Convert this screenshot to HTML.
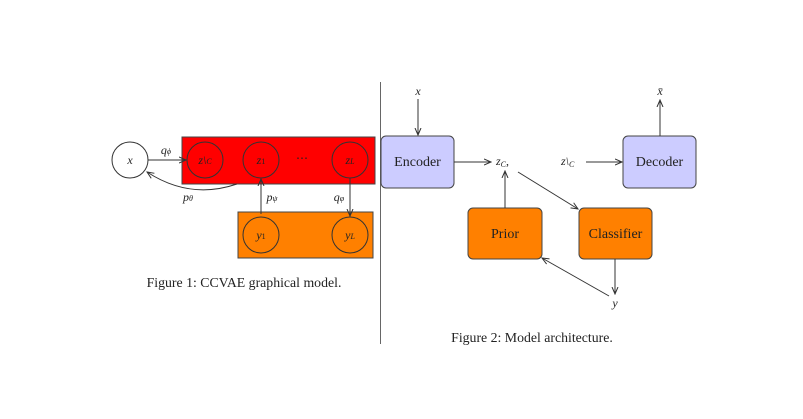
<!DOCTYPE html>
<html><head><meta charset="utf-8"><style>
html,body{margin:0;padding:0;background:#fff;}
svg{display:block;}
text{font-family:"Liberation Serif",serif;fill:#222;}
.m{font-style:italic;}
</style></head><body>
<svg width="803" height="419" viewBox="0 0 803 419" xmlns="http://www.w3.org/2000/svg">
<defs>
<marker id="a" markerWidth="8" markerHeight="8" refX="7" refY="4" orient="auto" markerUnits="userSpaceOnUse">
<path d="M0,1 L7,4 L0,7" fill="none" stroke="#333" stroke-width="1"/>
</marker>
</defs>
<rect x="182" y="137" width="193" height="47" fill="#ff0000" stroke="#444" stroke-width="1"/>
<rect x="238" y="212" width="135" height="46" fill="#ff8000" stroke="#444" stroke-width="1"/>
<circle cx="130" cy="160" r="18" fill="#fff" stroke="#333"/>
<text x="130" y="164" font-size="12" text-anchor="middle" class="m">x</text>
<circle cx="205" cy="160" r="18" fill="none" stroke="#333"/>
<text x="205" y="164" font-size="12" text-anchor="middle" class="m">z\<tspan font-size="8">C</tspan></text>
<circle cx="261" cy="160" r="18" fill="none" stroke="#333"/>
<text x="261" y="164" font-size="12" text-anchor="middle" class="m">z<tspan font-size="8" font-style="normal">1</tspan></text>
<text x="302" y="162" font-size="12" text-anchor="middle">⋯</text>
<circle cx="350" cy="160" r="18" fill="none" stroke="#333"/>
<text x="350" y="164" font-size="12" text-anchor="middle" class="m">z<tspan font-size="8">L</tspan></text>
<circle cx="261" cy="235" r="18" fill="none" stroke="#333"/>
<text x="261" y="239" font-size="12" text-anchor="middle" class="m">y<tspan font-size="8" font-style="normal">1</tspan></text>
<circle cx="350" cy="235" r="18" fill="none" stroke="#333"/>
<text x="350" y="239" font-size="12" text-anchor="middle" class="m">y<tspan font-size="8">L</tspan></text>
<line x1="148" y1="160" x2="186" y2="160" stroke="#333" marker-end="url(#a)"/>
<text x="166" y="154" font-size="12" text-anchor="middle" class="m">q<tspan font-size="8">ϕ</tspan></text>
<path d="M237,184 Q190,200 147,172" fill="none" stroke="#333" marker-end="url(#a)"/>
<text x="188" y="201" font-size="12" text-anchor="middle" class="m">p<tspan font-size="8">θ</tspan></text>
<line x1="261" y1="214" x2="261" y2="179" stroke="#333" marker-end="url(#a)"/>
<text x="272" y="201" font-size="12" text-anchor="middle" class="m">p<tspan font-size="8">ψ</tspan></text>
<line x1="350" y1="178" x2="350" y2="216" stroke="#333" marker-end="url(#a)"/>
<text x="339" y="201" font-size="12" text-anchor="middle" class="m">q<tspan font-size="8">φ</tspan></text>
<text x="244" y="287" font-size="13.8" text-anchor="middle">Figure 1: CCVAE graphical model.</text>
<line x1="380.5" y1="82" x2="380.5" y2="344" stroke="#666" stroke-width="1"/>
<rect x="381" y="136" width="73" height="52" rx="5" fill="#ccccff" stroke="#444"/>
<text x="417.5" y="166" font-size="14" text-anchor="middle">Encoder</text>
<rect x="623" y="136" width="73" height="52" rx="5" fill="#ccccff" stroke="#444"/>
<text x="659.5" y="166" font-size="14" text-anchor="middle">Decoder</text>
<rect x="468" y="208" width="74" height="51" rx="5" fill="#ff8000" stroke="#444"/>
<text x="505" y="238" font-size="14" text-anchor="middle">Prior</text>
<rect x="579" y="208" width="73" height="51" rx="5" fill="#ff8000" stroke="#444"/>
<text x="615.5" y="238" font-size="14" text-anchor="middle">Classifier</text>
<text x="418" y="95" font-size="12" text-anchor="middle" class="m">x</text>
<line x1="418" y1="99" x2="418" y2="135" stroke="#333" marker-end="url(#a)"/>
<text x="660" y="95" font-size="12" text-anchor="middle" class="m">x̄</text>
<line x1="660" y1="136" x2="660" y2="100" stroke="#333" marker-end="url(#a)"/>
<line x1="454" y1="162" x2="491" y2="162" stroke="#333" marker-end="url(#a)"/>
<text x="496" y="165" font-size="12" class="m">z<tspan font-size="8" dy="2">C</tspan><tspan dy="-2" font-style="normal">,</tspan></text>
<text x="561" y="165" font-size="12" class="m">z\<tspan font-size="8" dy="2">C</tspan></text>
<line x1="586" y1="162" x2="622" y2="162" stroke="#333" marker-end="url(#a)"/>
<line x1="505" y1="208" x2="505" y2="171" stroke="#333" marker-end="url(#a)"/>
<line x1="518" y1="172" x2="578" y2="209" stroke="#333" marker-end="url(#a)"/>
<line x1="615" y1="259" x2="615" y2="294" stroke="#333" marker-end="url(#a)"/>
<line x1="609" y1="296" x2="542" y2="258" stroke="#333" marker-end="url(#a)"/>
<text x="615" y="307" font-size="12" text-anchor="middle" class="m">y</text>
<text x="532" y="342" font-size="13.8" text-anchor="middle">Figure 2: Model architecture.</text>
</svg>
</body></html>
